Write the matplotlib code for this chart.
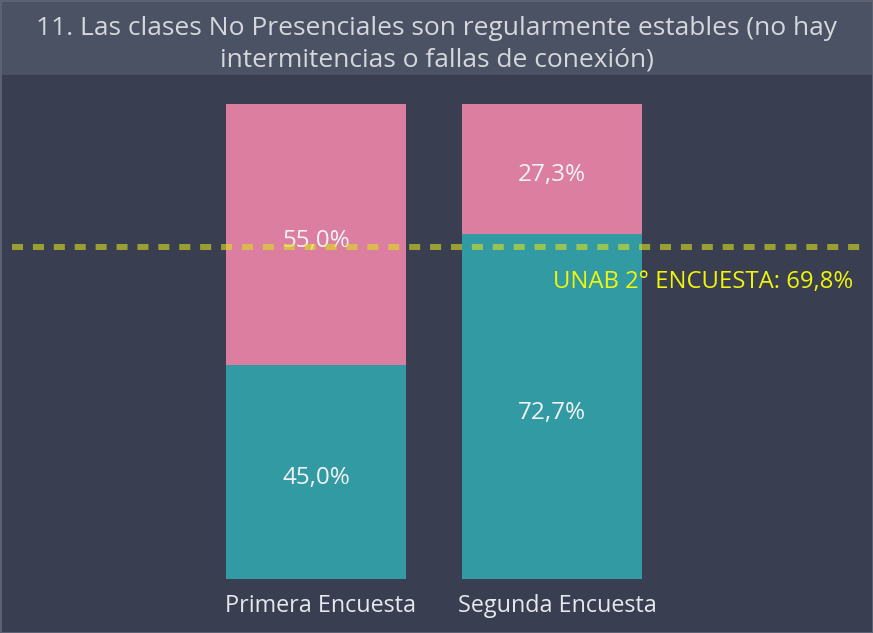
import numpy as np
import matplotlib.pyplot as plt
from matplotlib.patches import Rectangle

categories = ['Primera Encuesta', 'Segunda Encuesta']
si_values = [45.0, 72.7]
no_values = [55.0, 27.3]
reference_value = 69.8
reference_label = 'UNAB 2° ENCUESTA: 69,8%'
title = '11. Las clases No Presenciales son regularmente estables (no hay\nintermitencias o fallas de conexión)'

plt.rcParams['font.family'] = ['Open Sans', 'DejaVu Sans']

bg = '#393e50'
fig = plt.figure(figsize=(8.73, 6.33), dpi=100, facecolor=bg)
W, H = 873, 633

# title band
fig.patches.append(Rectangle((0, 1 - 75 / H), 1, 75 / H, transform=fig.transFigure,
                             facecolor='#4b5263', edgecolor='none', zorder=0))
fig.patches.append(Rectangle((0.5 / W, 0.5 / H), 1 - 1 / W, 1 - 1 / H, transform=fig.transFigure,
                             facecolor='none', edgecolor='#5c6272', lw=1.5, zorder=5))
fig.text(0.5, 1 - 44 / H, title, ha='center', va='center', color='#d4d7de',
         fontsize=19, linespacing=1.36)

# axes: bottom at y=579, top at y=104, full width
ax = fig.add_axes([0, (H - 579) / H, 1, 475 / H])
ax.set_facecolor('none')
x = np.arange(len(categories))
width = 180 / 236
ax.bar(x, si_values, width, color='#329aa3')
ax.bar(x, no_values, width, bottom=si_values, color='#db7e9f')
ax.set_xlim(-316 / 236, (W - 316) / 236)
ax.set_ylim(0, 100)

for i in range(len(categories)):
    ax.text(x[i], si_values[i] / 2 - 1.3, f'{si_values[i]:.1f}%'.replace('.', ','),
            ha='center', va='center', color='#f2f3f5', fontsize=17.5)
    ax.text(x[i], si_values[i] + no_values[i] / 2 - 1.3, f'{no_values[i]:.1f}%'.replace('.', ','),
            ha='center', va='center', color='#f2f3f5', fontsize=17.5)
    ax.text(x[i] + 0.021, -3.2, categories[i], ha='center', va='top', color='#e6e8ee', fontsize=16.8)

ax.plot([(12 - 316) / 236, (866 - 316) / 236], [reference_value] * 2, color='#dce11e',
        alpha=0.6, lw=4.3, dashes=(1.85, 1.65), zorder=4)
ax.text((853 - 316) / 236, reference_value - 4.8, reference_label, ha='right', va='top',
        color='#f0f50a', fontsize=17.2, zorder=5)

ax.axis('off')
fig.savefig('out.png', dpi=100, facecolor=bg)
